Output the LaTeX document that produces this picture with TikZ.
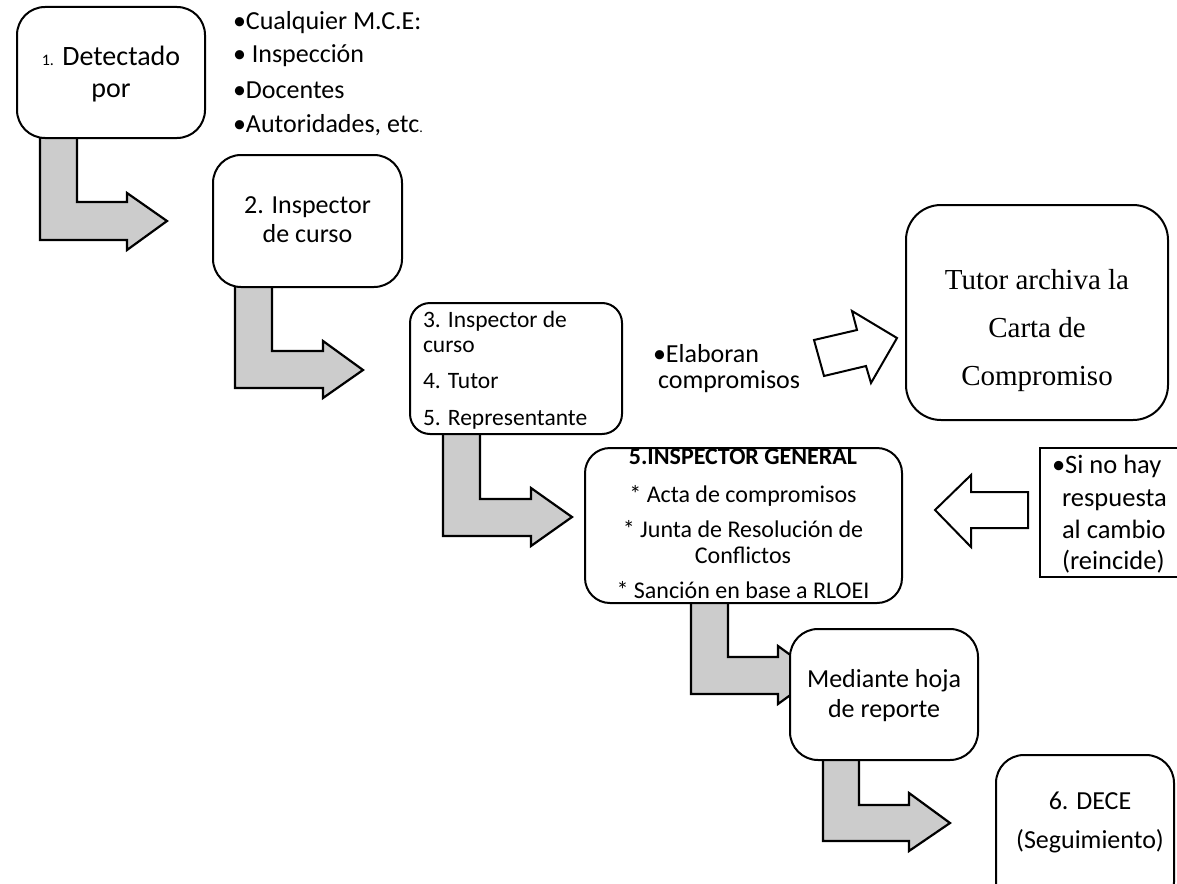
\documentclass[tikz,border=0pt]{standalone}
\usepackage{fontspec}
\setmainfont{Carlito}
\newfontfamily\serifTNR{Liberation Serif}
\definecolor{arrowgray}{RGB}{204,204,204}
\newcommand\setfs[1]{\fontsize{#1}{#1}\selectfont}
\begin{document}
\begin{tikzpicture}[x=1pt,y=-1pt,
  roundbox/.style={draw, line width=2pt, rounded corners=28pt, fill=white, inner sep=0pt, outer sep=0pt},
  plainbox/.style={draw, line width=1.3pt, fill=white, inner sep=0pt, outer sep=0pt},
  blockarrow/.style={draw, line width=2.2pt, fill=arrowgray, line join=miter},
  whitearrow/.style={draw, line width=2pt, fill=white, line join=miter},
  txt/.style={inner sep=0pt, outer sep=0pt, anchor=base},
  txtl/.style={inner sep=0pt, outer sep=0pt, anchor=base west}]
\useasboundingbox (0,0) rectangle (1177,883);
\clip (0,0) rectangle (1177,883);
\fill[white] (0,0) rectangle (1177,883);

% block arrows
\draw[blockarrow] (40,130)--(77,130)--(77,202)--(127,202)--(127,193)--(167,221)--(127,250)--(127,240)--(40,240)--cycle;
\draw[blockarrow] (235,280)--(272,280)--(272,351)--(323,351)--(323,341)--(363,370)--(323,398)--(323,388)--(235,388)--cycle;
\draw[blockarrow] (443,425)--(480,425)--(480,499)--(531,499)--(531,488)--(572,517)--(531,546)--(531,536)--(443,536)--cycle;
\draw[blockarrow] (691,595)--(728,595)--(728,657)--(778,657)--(778,646)--(818,675)--(778,704)--(778,694)--(691,694)--cycle;
\draw[blockarrow] (823,752)--(859,752)--(859,805)--(909,805)--(909,793)--(950,823)--(909,851)--(909,841)--(823,841)--cycle;

% white arrows
\draw[whitearrow] (814,340)--(857,330)--(852,311)--(897,338)--(871,383)--(866,366)--(824,376)--cycle;
\draw[whitearrow] (1028,492)--(971,492)--(971,475)--(935,510)--(971,547)--(971,528)--(1028,528)--cycle;

% boxes
\node[roundbox, minimum width=188pt, minimum height=131pt] (b1) at (111,72.5) {};
\node[roundbox, minimum width=189pt, minimum height=132pt] (b2) at (307.5,221) {};
\node[roundbox, rounded corners=20pt, minimum width=212pt, minimum height=131pt] (b3) at (516,368.5) {};
\node[roundbox, rounded corners=35pt, minimum width=262pt, minimum height=215pt] (tutor) at (1037,312.5) {};
\node[roundbox, rounded corners=25pt, minimum width=317pt, minimum height=155pt] (insp) at (743.5,525.5) {};
\node[plainbox, minimum width=145pt, minimum height=129pt] (sino) at (1112.5,512.5) {};
\node[roundbox, minimum width=188pt, minimum height=131pt] (med) at (884,694.5) {};
\node[roundbox, minimum width=178pt, minimum height=155pt] (dece) at (1085,832.5) {};

% box 1
\node[txt, font=\setfs{28}] (t1a) at (111,66) {{\setfs{16}1.} Detectado};
\node[txt, font=\setfs{28}] (t1b) at (111,97) {por};

% bullet list
\node[txtl, font=\setfs{26}] (l1) at (233,30) {•Cualquier M.C.E:};
\node[txtl, font=\setfs{26}] (l2) at (233,63) {• Inspección};
\node[txtl, font=\setfs{26}] (l3) at (233,98) {•Docentes};
\node[txtl, font=\setfs{26}] (l4) at (233,132) {•Autoridades, etc{\setfs{14}.}};

% box 2
\node[txt, font=\setfs{26}] (t2a) at (307.5,213) {2. Inspector};
\node[txt, font=\setfs{26}] (t2b) at (307.5,242) {de curso};

% box 3
\node[txtl, font=\setfs{23.5}] (t3a) at (423,327) {3. Inspector de};
\node[txtl, font=\setfs{23.5}] (t3b) at (423,352) {curso};
\node[txtl, font=\setfs{23.5}] (t3c) at (423,388) {4. Tutor};
\node[txtl, font=\setfs{23.5}] (t3d) at (423,425) {5. Representante};

% elaboran
\node[txtl, font=\setfs{26}] (e1) at (653,362) {•Elaboran};
\node[txtl, font=\setfs{26}] (e2) at (658,388) {compromisos};

% tutor
\node[txt, font=\serifTNR\setfs{29}] (tt1) at (1037,289) {Tutor archiva la};
\node[txt, font=\serifTNR\setfs{29}] (tt2) at (1037,337) {Carta de};
\node[txt, font=\serifTNR\setfs{29}] (tt3) at (1037,385) {Compromiso};

% inspector general
\begin{scope}
\clip (585,448) rectangle (902,603);
\node[txt, font=\bfseries\setfs{24}] (ig0) at (743,464) {5.INSPECTOR GENERAL};
\node[txt, font=\setfs{24}] (ig1) at (743,502) {* Acta de compromisos};
\node[txt, font=\setfs{24}] (ig2) at (743,537) {* Junta de Resolución de};
\node[txt, font=\setfs{24}] (ig3) at (743,563) {Conflictos};
\node[txt, font=\setfs{24}] (ig4) at (743,598) {* Sanción en base a RLOEI};
\end{scope}

% si no hay
\node[txtl, font=\setfs{26.5}] (s1) at (1052,473) {•Si no hay};
\node[txtl, font=\setfs{26.5}] (s2) at (1062,506) {respuesta};
\node[txtl, font=\setfs{26.5}] (s3) at (1062,538) {al cambio};
\node[txtl, font=\setfs{26.5}] (s4) at (1062,569) {(reincide)};

% mediante
\node[txt, font=\setfs{26}] (m1) at (884,687) {Mediante hoja};
\node[txt, font=\setfs{26}] (m2) at (884,717) {de reporte};

% dece
\node[txt, font=\setfs{26}] (d1) at (1090,809) {6. DECE};
\node[txt, font=\setfs{26}] (d2) at (1090,848) {(Seguimiento)};
\end{tikzpicture}
\end{document}
